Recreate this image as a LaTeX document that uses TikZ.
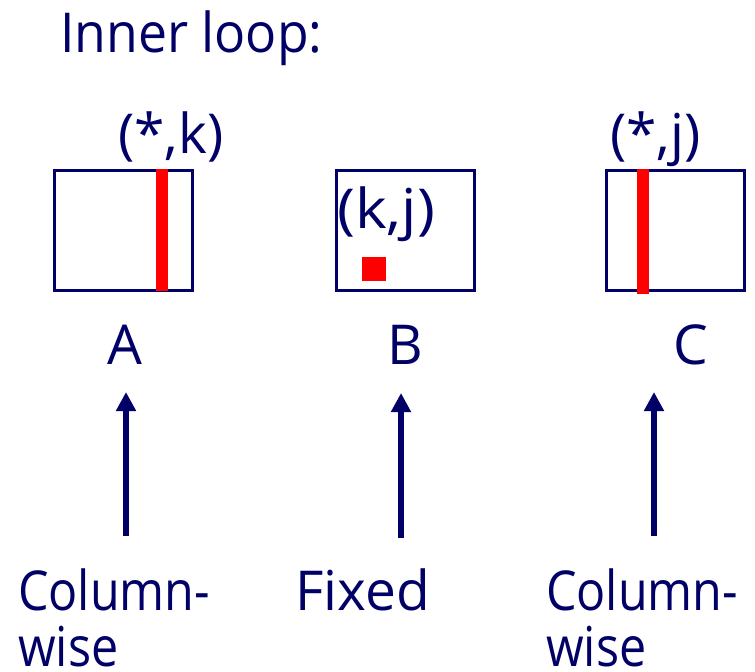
\documentclass[tikz,border=0pt]{standalone}
\usepackage{fontspec}
\setmainfont{Open Sans}
\usetikzlibrary{arrows.meta}
\definecolor{navy}{RGB}{0,0,102}
\definecolor{hot}{RGB}{255,0,0}
\tikzset{
  txt/.style={font=\fontsize{55}{57}\selectfont, text=navy, inner sep=0pt},
  matbox/.style={draw=navy, line width=3pt, minimum width=138pt, minimum height=120pt, inner sep=0pt},
  redbar/.style={fill=hot, draw=none, inner sep=0pt},
  uparrow/.style={draw=navy, line width=6pt, -{Triangle[width=19pt,length=19pt]}}
}
\begin{document}
\begin{tikzpicture}[x=1pt,y=-1pt]
\useasboundingbox (0,0) rectangle (755,672);
% title
\node[txt, anchor=base west] (title) at (60,52) {\scalebox{0.94}[1]{Inner loop:}};
% matrices
\node[matbox] (A) at (123.5,230) {};
\node[matbox] (B) at (405,230) {};
\node[matbox] (C) at (675.5,230) {};
% red marks
\node[redbar, minimum width=12pt, minimum height=122pt] (Acol) at (161.5,230) {};
\node[redbar, minimum width=12pt, minimum height=125pt] (Ccol) at (642.5,231.5) {};
\node[redbar, minimum width=24pt, minimum height=24pt] (Bel) at (373.5,268.5) {};
% index labels
\node[txt, anchor=base west] (ak) at (118,153) {(*,k)};
\node[txt, anchor=base west] (kj) at (337,228) {\scalebox{1.1}[1]{(k,j)}};
\node[txt, anchor=base west] (cj) at (610,153) {(*,j)};
% matrix names
\node[txt, anchor=base] (nA) at (125,364) {A};
\node[txt, anchor=base] (nB) at (405,364) {B};
\node[txt, anchor=base] (nC) at (691,364) {C};
% bottom labels
\node[txt, anchor=base west] (la1) at (18,610) {\scalebox{0.88}[1]{Column-}};
\node[txt, anchor=base west, text depth=0pt] (la2) at (18,666) {\scalebox{0.88}[1]{wise}};
\node[txt, anchor=base west] (lb) at (295,610) {Fixed};
\node[txt, anchor=base west] (lc1) at (546,610) {\scalebox{0.88}[1]{Column-}};
\node[txt, anchor=base west, text depth=0pt] (lc2) at (546,666) {\scalebox{0.88}[1]{wise}};
% arrow ends
\coordinate (a0) at (126,536);
\coordinate (a1) at (126,392);
\coordinate (b0) at (401,538);
\coordinate (b1) at (401,393);
\coordinate (c0) at (654,536);
\coordinate (c1) at (654,392);
\draw[uparrow] (a0) -- (a1);
\draw[uparrow] (b0) -- (b1);
\draw[uparrow] (c0) -- (c1);
\end{tikzpicture}
\end{document}
